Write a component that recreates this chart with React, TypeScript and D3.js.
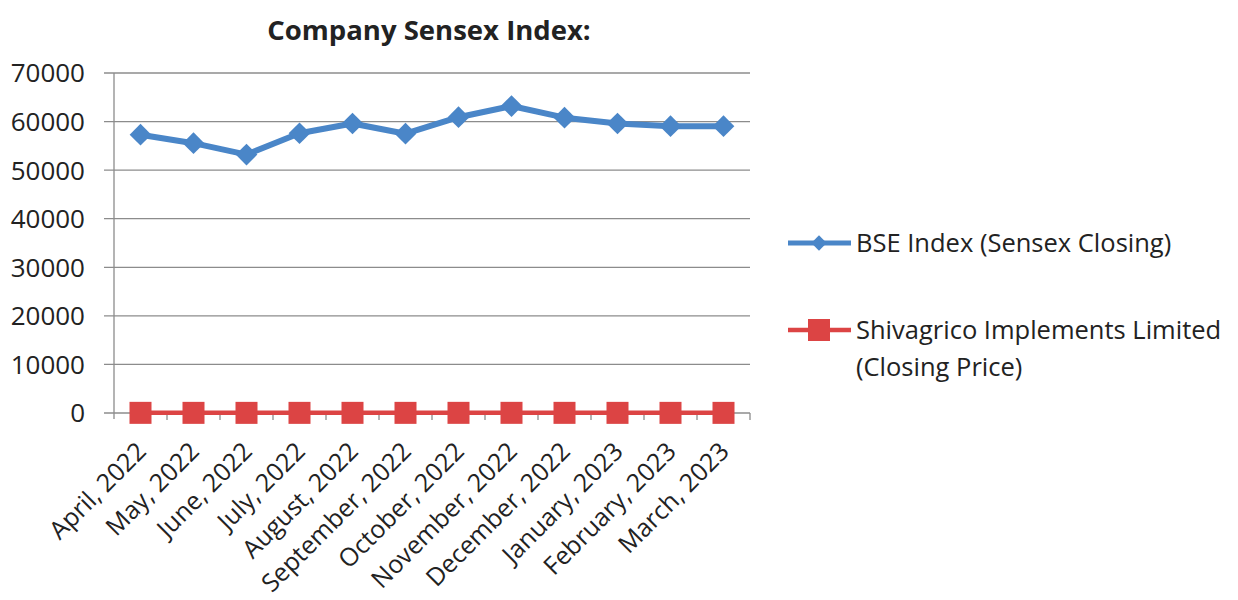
import * as d3 from "d3";
import { useEffect, useRef } from "react";

const months = [
  "April, 2022",
  "May, 2022",
  "June, 2022",
  "July, 2022",
  "August, 2022",
  "September, 2022",
  "October, 2022",
  "November, 2022",
  "December, 2022",
  "January, 2023",
  "February, 2023",
  "March, 2023",
];

const bseIndex = [57300, 55550, 53200, 57600, 59600, 57500, 60900, 63200, 60800, 59600, 59050, 59050];
const shivagricoPrice = [32, 30, 28, 29, 31, 30, 33, 34, 31, 29, 28, 27];

const yTicks = [0, 10000, 20000, 30000, 40000, 50000, 60000, 70000];

const seriesNames = ["BSE Index (Sensex Closing)", "Shivagrico Implements Limited"];

const BLUE = "#4A86C8";
const RED = "#DC4444";
const FONT = "'Open Sans', sans-serif";

export default function App() {
  const svgRef = useRef<SVGSVGElement>(null);
  const width = 1238;
  const height = 600;

  useEffect(() => {
    document.body.style.margin = "0";
    if (!svgRef.current) return;

    const svg = d3.select(svgRef.current);
    svg.selectAll("*").remove();

    const margin = { top: 73, left: 114, right: 488, bottom: 187 };
    const innerW = width - margin.left - margin.right;
    const innerH = height - margin.top - margin.bottom;

    const x = d3.scaleBand().domain(months).range([0, innerW]);
    const y = d3.scaleLinear().domain([0, 70000]).range([innerH, 0]);

    svg.append("rect").attr("width", width).attr("height", height).attr("fill", "#fff");

    // title
    svg
      .append("text")
      .attr("x", 429)
      .attr("y", 40)
      .attr("text-anchor", "middle")
      .style("font-family", FONT)
      .style("font-size", "27.5px")
      .style("font-weight", "bold")
      .style("fill", "#222")
      .text("Company Sensex Index:");

    const g = svg.append("g").attr("transform", `translate(${margin.left},${margin.top})`);

    // gridlines + y ticks
    g.selectAll(".grid")
      .data(yTicks)
      .enter()
      .append("line")
      .attr("x1", -10)
      .attr("x2", innerW)
      .attr("y1", (d) => y(d))
      .attr("y2", (d) => y(d))
      .attr("stroke", "#8c8c8c")
      .attr("stroke-width", 1.3);

    g.selectAll(".ylab")
      .data(yTicks)
      .enter()
      .append("text")
      .attr("x", -29)
      .attr("y", (d) => y(d))
      .attr("dy", "0.36em")
      .attr("text-anchor", "end")
      .style("font-family", FONT)
      .style("font-size", "26px")
      .style("fill", "#222")
      .text((d) => String(d));

    // y axis line
    g.append("line")
      .attr("x1", 0)
      .attr("x2", 0)
      .attr("y1", 0)
      .attr("y2", innerH + 6)
      .attr("stroke", "#8c8c8c")
      .attr("stroke-width", 1.3);

    // x ticks
    months.forEach((m) => {
      const bx = x(m)! + x.bandwidth();
      g.append("line")
        .attr("x1", bx)
        .attr("x2", bx)
        .attr("y1", innerH)
        .attr("y2", innerH + 7)
        .attr("stroke", "#8c8c8c")
        .attr("stroke-width", 1.3);
    });

    // x labels
    g.selectAll(".xlab")
      .data(months)
      .enter()
      .append("text")
      .attr(
        "transform",
        (d) => `translate(${x(d)! + x.bandwidth() / 2 + 7},${innerH + 40}) rotate(-45)`
      )
      .attr("text-anchor", "end")
      .style("font-family", FONT)
      .style("font-size", "25px")
      .style("fill", "#222")
      .text((d) => d);

    const cx = (i: number) => x(months[i])! + x.bandwidth() / 2;

    const line = d3
      .line<number>()
      .x((d, i) => cx(i))
      .y((d) => y(d));

    // red series
    g.append("path")
      .datum(shivagricoPrice)
      .attr("d", line)
      .attr("fill", "none")
      .attr("stroke", RED)
      .attr("stroke-width", 4.5);

    g.selectAll(".sq")
      .data(shivagricoPrice)
      .enter()
      .append("rect")
      .attr("x", (d, i) => cx(i) - 11)
      .attr("y", (d) => y(d) - 11)
      .attr("width", 22)
      .attr("height", 22)
      .attr("fill", RED);

    // blue series
    g.append("path")
      .datum(bseIndex)
      .attr("d", line)
      .attr("fill", "none")
      .attr("stroke", BLUE)
      .attr("stroke-width", 6)
      .attr("stroke-linejoin", "round");

    const diamond = d3.symbol().type(d3.symbolDiamond2).size(300);
    g.selectAll(".dm")
      .data(bseIndex)
      .enter()
      .append("path")
      .attr("d", diamond)
      .attr("transform", (d, i) => `translate(${cx(i)},${y(d)})`)
      .attr("fill", BLUE);

    // legend
    const legend = svg.append("g");
    legend
      .append("line")
      .attr("x1", 788)
      .attr("x2", 851)
      .attr("y1", 243)
      .attr("y2", 243)
      .attr("stroke", BLUE)
      .attr("stroke-width", 5);
    legend
      .append("path")
      .attr("d", d3.symbol().type(d3.symbolDiamond2).size(150))
      .attr("transform", "translate(819,243)")
      .attr("fill", BLUE);
    legend
      .append("text")
      .attr("x", 856)
      .attr("y", 252)
      .style("font-family", FONT)
      .style("font-size", "25.5px")
      .style("fill", "#222")
      .text(seriesNames[0]);

    legend
      .append("line")
      .attr("x1", 788)
      .attr("x2", 851)
      .attr("y1", 330)
      .attr("y2", 330)
      .attr("stroke", RED)
      .attr("stroke-width", 4.5);
    legend
      .append("rect")
      .attr("x", 808)
      .attr("y", 319)
      .attr("width", 22)
      .attr("height", 22)
      .attr("fill", RED);
    const t2 = legend
      .append("text")
      .attr("x", 856)
      .attr("y", 339)
      .style("font-family", FONT)
      .style("font-size", "25.5px")
      .style("fill", "#222");
    t2.append("tspan").attr("x", 856).text(seriesNames[1]);
    t2.append("tspan").attr("x", 856).attr("dy", 37).text("(Closing Price)");
  }, []);

  return (
    <div style={{ width, height }}>
      <svg ref={svgRef} width={width} height={height} />
    </div>
  );
}
